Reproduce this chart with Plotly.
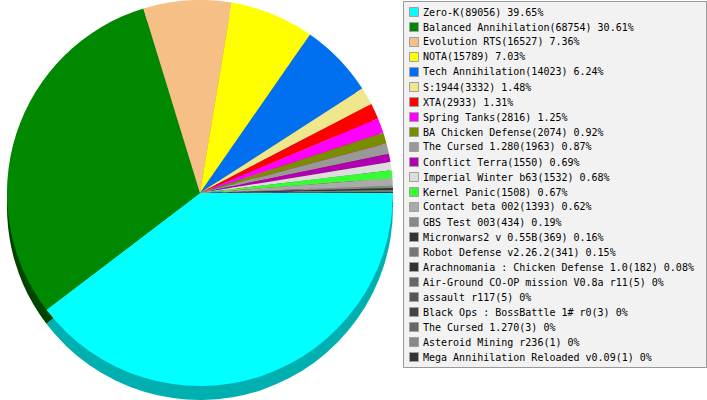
import plotly.graph_objects as go

W, H = 707, 400

names = [
    "Zero-K", "Balanced Annihilation", "Evolution RTS", "NOTA", "Tech Annihilation",
    "S:1944", "XTA", "Spring Tanks", "BA Chicken Defense", "The Cursed 1.280",
    "Conflict Terra", "Imperial Winter b63", "Kernel Panic", "Contact beta 002",
    "GBS Test 003", "Micronwars2 v 0.55B", "Robot Defense v2.26.2",
    "Arachnomania : Chicken Defense 1.0", "Air-Ground CO-OP mission V0.8a r11",
    "assault r117", "Black Ops : BossBattle 1# r0", "The Cursed 1.270",
    "Asteroid Mining r236", "Mega Annihilation Reloaded v0.09",
]
counts = [89056, 68754, 16527, 15789, 14023, 3332, 2933, 2816, 2074, 1963,
          1550, 1532, 1508, 1393, 434, 369, 341, 182, 5, 5, 3, 3, 1, 1]
colors = ["#00FFFF", "#008800", "#F5BF85", "#FFFF00", "#0070F0", "#F0E68C",
          "#FF0000", "#FF00FF", "#7A8C00", "#999999", "#B000B0", "#DDDDDD",
          "#33FF33", "#AAAAAA", "#888888", "#333333", "#777777", "#333333",
          "#666666", "#555555", "#444444", "#666666", "#888888", "#333333"]
side_colors = ["#00AFAF", "#004400", "#A8835B", "#AFAF00", "#004DA5", "#A59E60",
               "#AF0000", "#AF00AF", "#545F00", "#696969", "#790079", "#989898",
               "#23AF23", "#757575", "#5D5D5D", "#232323", "#525252", "#232323",
               "#464646", "#3A3A3A", "#2F2F2F", "#464646", "#5D5D5D", "#232323"]

total = sum(counts)
labels = [f"{n}({c}) {round(c / total * 100, 2):g}%" for n, c in zip(names, counts)]

# pie geometry (pixels)
cx, cy, r, depth = 200, 193, 193, 14

fig = go.Figure()
# side (depth) of the 3D pie
fig.add_trace(go.Pie(
    labels=names, values=counts, sort=False, direction="clockwise", rotation=90,
    marker=dict(colors=side_colors, line=dict(width=0)), textinfo="none",
    hoverinfo="skip", showlegend=False,
    domain=dict(x=[(cx - r) / W, (cx + r) / W],
                y=[max(0.0, (H - (cy + r + depth)) / H), (H - (cy - r + depth)) / H]),
))
# top surface
fig.add_trace(go.Pie(
    labels=names, values=counts, sort=False, direction="clockwise", rotation=90,
    marker=dict(colors=colors, line=dict(width=0)), textinfo="none",
    hoverinfo="label+value+percent", showlegend=False,
    domain=dict(x=[(cx - r) / W, (cx + r) / W],
                y=[(H - (cy + r)) / H, min(1.0, (H - (cy - r)) / H)]),
))

# custom legend box
shapes = [dict(type="rect", xref="paper", yref="paper",
               x0=403.5 / W, x1=706.5 / W, y0=1 - 367.5 / H, y1=1 - 1.5 / H,
               fillcolor="#F2F2F2", line=dict(color="#999999", width=1), layer="below")]
annotations = []
row0, step = 12, 15
for i, (lab, col) in enumerate(zip(labels, colors)):
    yc = row0 + step * i
    shapes.append(dict(type="rect", xref="paper", yref="paper",
                       x0=409.5 / W, x1=418.5 / W,
                       y0=1 - (yc + 4.5) / H, y1=1 - (yc - 4.5) / H,
                       fillcolor=col, line=dict(color="#A0A0A0", width=1)))
    annotations.append(dict(xref="paper", yref="paper", x=421 / W, y=1 - yc / H,
                            xanchor="left", yanchor="middle", text=lab, showarrow=False,
                            font=dict(family="DejaVu Sans Mono", size=10, color="#000000")))

fig.update_layout(
    width=W, height=H, margin=dict(l=0, r=0, t=0, b=0),
    paper_bgcolor="#FFFFFF", plot_bgcolor="#FFFFFF",
    shapes=shapes, annotations=annotations, showlegend=False,
)
fig.write_html("out.html", config={"displayModeBar": False},
               post_script="document.body.style.margin='0';document.body.style.overflow='hidden';")
